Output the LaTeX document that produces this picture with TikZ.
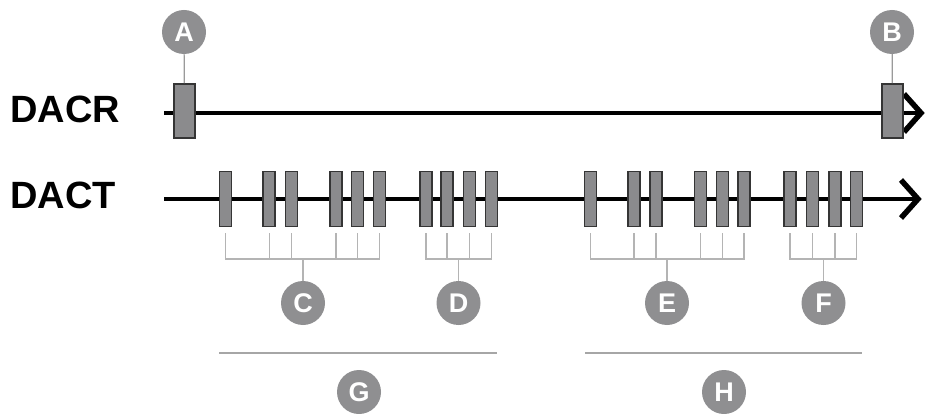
\documentclass[tikz,border=0pt]{standalone}
\usepackage{fontspec}
\setmainfont{Liberation Sans}
\definecolor{bgray}{HTML}{8B8B8D}
\definecolor{bdark}{HTML}{353535}
\definecolor{cgray}{HTML}{8F8F91}
\definecolor{brkgray}{HTML}{B4B4B4}
\definecolor{lgray}{HTML}{A6A6A6}
\definecolor{sgray}{HTML}{9A9A9A}
\begin{document}
\begin{tikzpicture}[x=1pt,y=-1pt,
  lbl/.style={font=\fontsize{38}{38}\selectfont\bfseries, anchor=base west, inner sep=0pt},
  callout/.style={circle, fill=cgray, text=white, minimum size=44pt, inner sep=0pt, font=\fontsize{27}{27}\selectfont\bfseries},
  bigbar/.style={draw=bdark, line width=1.8pt, fill=bgray, minimum width=21pt, minimum height=54pt, inner sep=0pt},
  bar/.style={draw=bdark, line width=1.5pt, fill=bgray, minimum width=12pt, minimum height=54.6pt, inner sep=0pt},
  axis/.style={line width=4pt, black},
  chev/.style={line width=5.5pt, black, line join=miter},
  brk/.style={draw=brkgray, line width=1.3pt},
  span/.style={draw=lgray, line width=2pt},
  stem/.style={draw=sgray, line width=1.2pt}]
\useasboundingbox (0,0) rectangle (928,414);

% labels
\node[lbl] (dacr) at (10,123) {DACR};
\node[lbl] (dact) at (10,208) {DACT};

% axes
\coordinate (sR) at (164,113);
\coordinate (tR) at (921,113);
\coordinate (sT) at (164,199);
\coordinate (tT) at (918,199);
\draw[axis] (sR) -- (tR);
\draw[chev] ([xshift=-17pt,yshift=19pt]tR) -- (tR) -- ([xshift=-17pt,yshift=-19pt]tR);
\draw[axis] (sT) -- (tT);
\draw[chev] ([xshift=-17pt,yshift=19pt]tT) -- (tT) -- ([xshift=-17pt,yshift=-19pt]tT);

% DACR bars and callouts
\node[bigbar] (rA) at (184.5,111) {};
\node[bigbar] (rB) at (892.5,111) {};
\node[callout] (cA) at (184,32) {A};
\node[callout] (cB) at (892,32) {B};
\draw[stem] (cA) -- (rA);
\draw[stem] (cB) -- (rB);

% DACT bars
\foreach \i/\x in {1/225.5,2/269.2,3/291.7,4/336,5/357.7,6/379.3,7/426,8/447,9/469.3,10/491.3,
                   11/590.7,12/634,13/656,14/700.7,15/722.7,16/744,17/790,18/812.7,19/835,20/856.7}
  \node[bar] (r\i) at (\x,199) {};

% callouts C-F
\node[callout] (cC) at (303,303) {C};
\node[callout] (cD) at (458.5,303) {D};
\node[callout] (cE) at (667,303) {E};
\node[callout] (cF) at (823.5,303) {F};

% brackets
\foreach \a/\b/\c in {1/6/C,7/10/D,11/16/E,17/20/F}{
  \draw[brk] ([yshift=-6pt]r\a.south) -- ([yshift=-32pt]r\a.south) -- ([yshift=-32pt]r\b.south) -- ([yshift=-6pt]r\b.south);
  \draw[brk] (c\c.north) -- ++(0pt,22pt);
}
\foreach \i in {2,3,4,5,8,9,12,13,14,15,18,19}
  \draw[brk] ([yshift=-6pt]r\i.south) -- ([yshift=-32pt]r\i.south);

% spans G and H
\coordinate (g1) at (219,352.5);
\coordinate (g2) at (497,352.5);
\coordinate (h1) at (585,352.5);
\coordinate (h2) at (862,352.5);
\draw[span] (g1) -- (g2);
\draw[span] (h1) -- (h2);
\node[callout] (cG) at (359,392) {G};
\node[callout] (cH) at (724,392) {H};
\end{tikzpicture}
\end{document}
